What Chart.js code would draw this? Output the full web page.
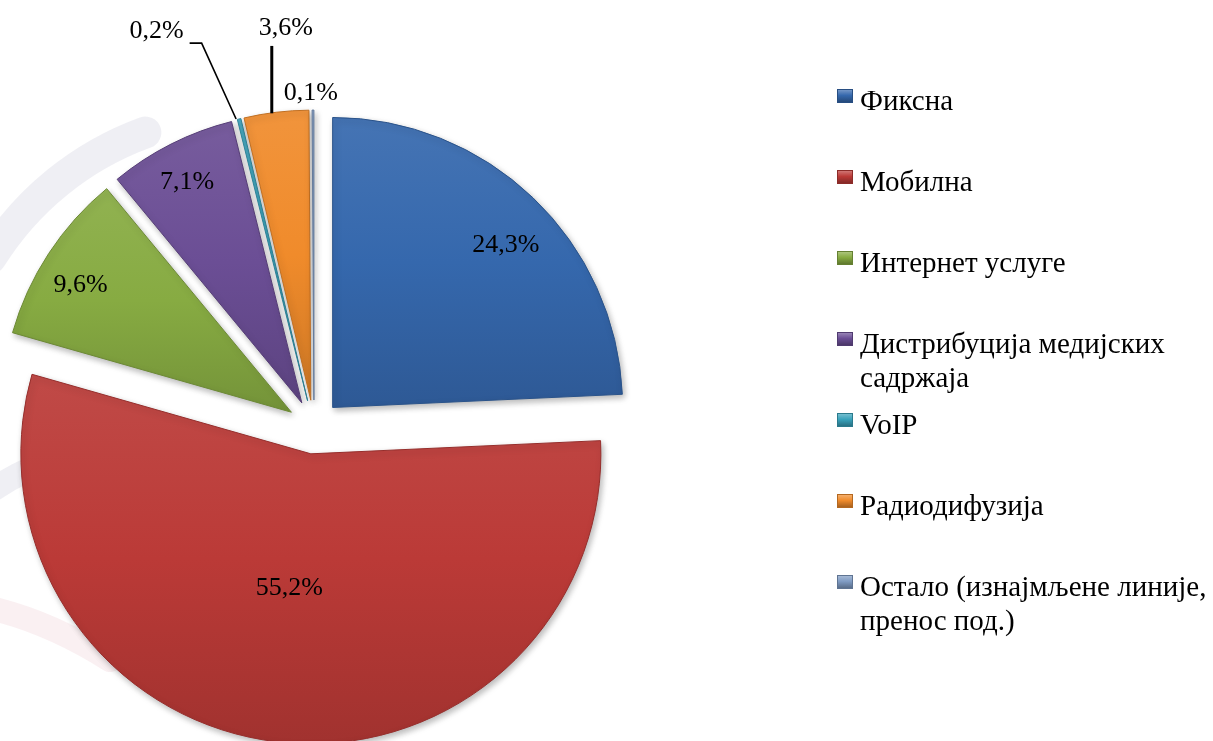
<!DOCTYPE html>
<html>
<head>
<meta charset="utf-8">
<script src="https://cdn.jsdelivr.net/npm/chart.js@4/dist/chart.umd.min.js"></script>
<style>
  html, body { margin: 0; padding: 0; background: #ffffff; }
  #wrap { position: relative; width: 1213px; height: 741px; overflow: hidden; }
  #c { position: absolute; left: 0; top: 0; }
  .lg-item { position: absolute; left: 837px; width: 376px; }
  .lg-mark { position: absolute; left: 0; top: 6px; width: 16px; height: 14px; box-sizing: border-box; }
  .lg-text { position: absolute; left: 23px; top: 0; width: 356px; font-family: "Liberation Serif", "Times New Roman", serif; font-size: 29px; line-height: 34px; color: #000; white-space: normal; }
</style>
</head>
<body>
<div id="wrap">
  <canvas id="c" width="1213" height="741"></canvas>
  <div id="legend"></div>
</div>
<script>
// ---- data ----
const categories = [
  'Фиксна',
  'Мобилна',
  'Интернет услуге',
  'Дистрибуција медијских садржаја',
  'VoIP',
  'Радиодифузија',
  'Остало (изнајмљене линије, пренос под.)'
];
const shares = [24.3, 55.2, 9.6, 7.1, 0.2, 3.6, 0.1];

// ---- style ----
const colors = ['#3568ad', '#bb3a37', '#87ab42', '#6b4e95', '#39a2bb', '#f08b2b', '#7f9bc3'];
const EXPLODE = 27;
const RADIUS = 290;
// label placement relative to each (exploded) slice: fraction of radius + angle tweak (deg)
const labelPlace = [
  { r: 0.82, da: 3 },
  { r: 0.465, da: 2.5 },
  { r: 0.85, da: -2 },
  { r: 0.86, da: -0.6 },
  { r: 1.38, da: -8.5, leader: 'elbow' },
  { r: 1.29, da: 3, leader: 'vertical' },
  { r: 1.06, da: -0.4 }
];
const FONT = '26px "Liberation Serif", "Times New Roman", serif';

function shade(hex, amt) {
  const n = parseInt(hex.slice(1), 16);
  let r = (n >> 16) & 255, g = (n >> 8) & 255, b = n & 255;
  const f = (c) => amt >= 0 ? Math.round(c + (255 - c) * amt) : Math.round(c * (1 + amt));
  return 'rgb(' + f(r) + ',' + f(g) + ',' + f(b) + ')';
}

// ---- legend (HTML) ----
const legend = document.getElementById('legend');
categories.forEach((name, i) => {
  const item = document.createElement('div');
  item.className = 'lg-item';
  item.style.top = (83 + 81 * i) + 'px';
  const mark = document.createElement('div');
  mark.className = 'lg-mark';
  mark.style.background = 'linear-gradient(180deg,' + shade(colors[i], 0.3) + ' 0%,' + colors[i] + ' 45%,' + shade(colors[i], -0.3) + ' 100%)';
  mark.style.border = '1px solid ' + shade(colors[i], -0.25);
  const txt = document.createElement('div');
  txt.className = 'lg-text';
  txt.textContent = name;
  item.appendChild(mark);
  item.appendChild(txt);
  legend.appendChild(item);
});

// ---- plugins ----
const watermark = {
  id: 'watermark',
  beforeDraw(chart) {
    const ctx = chart.ctx;
    ctx.save();
    ctx.lineCap = 'round';
    ctx.strokeStyle = 'rgba(228,229,236,0.6)';
    ctx.lineWidth = 32;
    ctx.beginPath();
    ctx.arc(250, 420, 306, 212 * Math.PI / 180, 250 * Math.PI / 180);
    ctx.stroke();
    ctx.lineWidth = 24;
    ctx.beginPath();
    ctx.moveTo(-10, 492); ctx.quadraticCurveTo(20, 470, 60, 458);
    ctx.stroke();
    ctx.strokeStyle = 'rgba(246,230,233,0.6)';
    ctx.lineWidth = 24;
    ctx.beginPath();
    ctx.moveTo(-10, 608); ctx.quadraticCurveTo(50, 622, 110, 660);
    ctx.stroke();
    ctx.restore();
  }
};

const explode = {
  id: 'explode',
  afterDatasetUpdate(chart, args) {
    const ctx = chart.ctx;
    args.meta.data.forEach((arc, i) => {
      const mid = (arc.startAngle + arc.endAngle) / 2;
      arc.x += Math.cos(mid) * EXPLODE;
      arc.y += Math.sin(mid) * EXPLODE;
      let minY = arc.y, maxY = arc.y;
      for (let k = 0; k <= 60; k++) {
        const a = arc.startAngle + (arc.endAngle - arc.startAngle) * k / 60;
        const yy = arc.y + Math.sin(a) * arc.outerRadius;
        minY = Math.min(minY, yy); maxY = Math.max(maxY, yy);
      }
      const g = ctx.createLinearGradient(0, minY, 0, Math.max(maxY, minY + 1));
      g.addColorStop(0, shade(colors[i], 0.08));
      g.addColorStop(0.5, colors[i]);
      g.addColorStop(1, shade(colors[i], -0.14));
      arc.options = Object.assign({}, arc.options, {
        backgroundColor: g,
        borderColor: shade(colors[i], -0.2)
      });
    });
  },
  beforeDatasetDraw(chart) {
    const ctx = chart.ctx;
    ctx.save();
    ctx.shadowColor = 'rgba(0,0,0,0.28)';
    ctx.shadowBlur = 6;
    ctx.shadowOffsetX = 2;
    ctx.shadowOffsetY = 3;
  },
  afterDatasetDraw(chart) {
    chart.ctx.restore();
  },
  afterDatasetsDraw(chart) {
    const ctx = chart.ctx;
    const meta = chart.getDatasetMeta(0);
    ctx.save();
    ctx.font = FONT;
    ctx.fillStyle = '#000';
    ctx.textAlign = 'center';
    ctx.textBaseline = 'middle';
    meta.data.forEach((arc, i) => {
      const p = labelPlace[i];
      const mid = (arc.startAngle + arc.endAngle) / 2;
      const la = mid + p.da * Math.PI / 180;
      const R = arc.outerRadius;
      const lx = arc.x + Math.cos(la) * R * p.r;
      const ly = arc.y + Math.sin(la) * R * p.r;
      const ox = arc.x + Math.cos(mid) * R;
      const oy = arc.y + Math.sin(mid) * R;
      ctx.strokeStyle = '#000';
      if (p.leader === 'elbow') {
        ctx.lineWidth = 1.6;
        ctx.beginPath();
        ctx.moveTo(ox - 3, oy);
        ctx.lineTo(lx + 45, ly + 13);
        ctx.lineTo(lx + 33, ly + 13);
        ctx.stroke();
      } else if (p.leader === 'vertical') {
        ctx.lineWidth = 3;
        ctx.beginPath();
        ctx.moveTo(lx - 14, oy + 1);
        ctx.lineTo(lx - 14, ly + 19);
        ctx.stroke();
      }
      const txt = shares[i].toFixed(1).replace('.', ',') + '%';
      ctx.fillText(txt, lx, ly + 1);
    });
    ctx.restore();
  }
};

new Chart(document.getElementById('c'), {
  type: 'pie',
  data: {
    labels: categories,
    datasets: [{
      data: shares,
      backgroundColor: colors,
      borderColor: colors.map(c => shade(c, -0.2)),
      borderWidth: 1,
      radius: RADIUS,
      clip: false
    }]
  },
  options: {
    responsive: false,
    animation: false,
    events: [],
    layout: { padding: { left: 0, right: 585, top: 113, bottom: 0 } },
    plugins: {
      legend: { display: false },
      tooltip: { enabled: false },
      title: { display: false }
    }
  },
  plugins: [watermark, explode]
});
</script>
</body>
</html>
